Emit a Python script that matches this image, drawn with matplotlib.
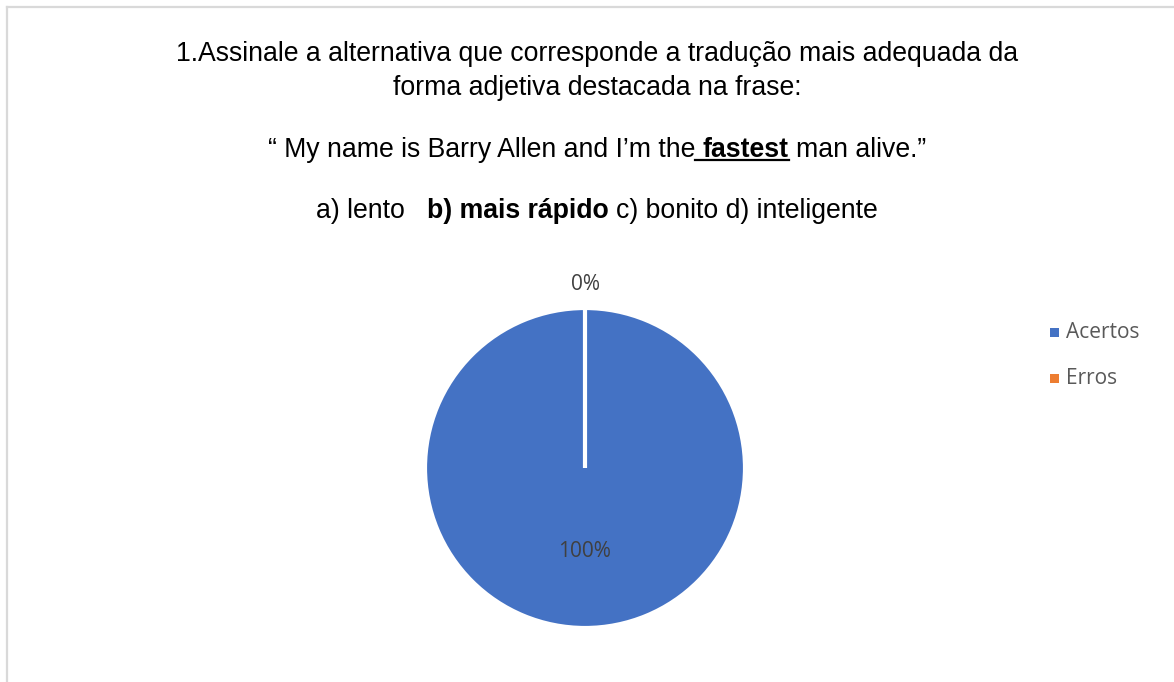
import matplotlib

matplotlib.use("Agg")
import matplotlib.pyplot as plt
import numpy as np
from matplotlib.lines import Line2D
from matplotlib.patches import Rectangle

W, H = 1174, 682

categories = ["Acertos", "Erros"]
shares = [100, 0]
colors = ["#4472C4", "#ED7D31"]

# title lines: (text, bold, underline_with_leading_space)
title_lines = [
    [("1.Assinale a alternativa que corresponde a tradução mais adequada da", False, False)],
    [("forma adjetiva destacada na frase:", False, False)],
    [("“ My name is Barry Allen and I’m the", False, False),
     ("fastest", True, True),
     ("man alive.”", False, False)],
    [("a) lento", False, False),
     (" ", False, False),
     ("b) mais rápido", True, False),
     ("c) bonito d) inteligente", False, False)],
]
title_baselines = [61, 95, 157, 218]

TITLE_FONT = "Liberation Sans"
BODY_FONT = "Open Sans"
LABEL_GREY = "#404040"
LEGEND_GREY = "#595959"
FRAME = "#D9D9D9"


def fx(x):
    return x / W


def fy(y):
    return 1 - y / H


fig = plt.figure(figsize=(W / 100, H / 100), dpi=100, facecolor="white")
renderer = fig.canvas.get_renderer()

# chart frame: only top and left edges fall inside the canvas
fig.add_artist(Line2D([fx(7), fx(W + 5)], [fy(7), fy(7)], color=FRAME, lw=1.6))
fig.add_artist(Line2D([fx(7), fx(7)], [fy(7), fy(H + 5)], color=FRAME, lw=1.6))


def text_width(s, bold, size):
    t = fig.text(0, 0, s, fontsize=size, family=TITLE_FONT,
                 fontweight="bold" if bold else "normal")
    w = t.get_window_extent(renderer).width
    t.remove()
    return w


def rich_line(pieces, baseline, center_x, size):
    space = text_width("x x", False, size) - text_width("xx", False, size)
    widths = [text_width(s, b, size) if s.strip() else space * len(s)
              for s, b, _ in pieces]
    total = sum(widths) + space * (len(pieces) - 1)
    x = center_x - total / 2
    for (s, bold, underline), w in zip(pieces, widths):
        if s.strip():
            fig.text(fx(x), fy(baseline), s, fontsize=size, family=TITLE_FONT,
                     fontweight="bold" if bold else "normal", color="black",
                     ha="left", va="baseline")
        if underline:
            fig.add_artist(Line2D([fx(x - space), fx(x + w)],
                                  [fy(baseline + 2.5), fy(baseline + 2.5)],
                                  color="black", lw=1.6))
        x += w + space


for pieces, base in zip(title_lines, title_baselines):
    rich_line(pieces, base, 597, 19.2)

# pie
cx, cy, r = 585, 468, 160
ax = fig.add_axes([fx(cx - r), fy(cy + r), 2 * r / W, 2 * r / H])
wedges, _ = ax.pie(shares, colors=colors, startangle=90, counterclock=False,
                   wedgeprops={"edgecolor": "white", "linewidth": 3.0})
ax.set_xlim(-1, 1)
ax.set_ylim(-1, 1)
ax.set_aspect("equal")
ax.axis("off")

for wedge, value in zip(wedges, shares):
    mid = np.deg2rad((wedge.theta1 + wedge.theta2) / 2)
    dist = 0.52 if value > 0 else 1.145
    ax.text(dist * np.cos(mid), dist * np.sin(mid), f"{value}%",
            ha="center", va="center", fontsize=15, family=BODY_FONT,
            color=LABEL_GREY)

# legend
legend_y = [332, 379]
for name, color, y in zip(categories, colors, legend_y):
    fig.add_artist(Rectangle((fx(1049.5), fy(y + 4.5)), 9 / W, 9 / H,
                             facecolor=color, edgecolor="none"))
    fig.text(fx(1066), fy(y), name, fontsize=15, family=BODY_FONT,
             color=LEGEND_GREY, ha="left", va="center")

fig.savefig("out.png", dpi=100, facecolor="white")
